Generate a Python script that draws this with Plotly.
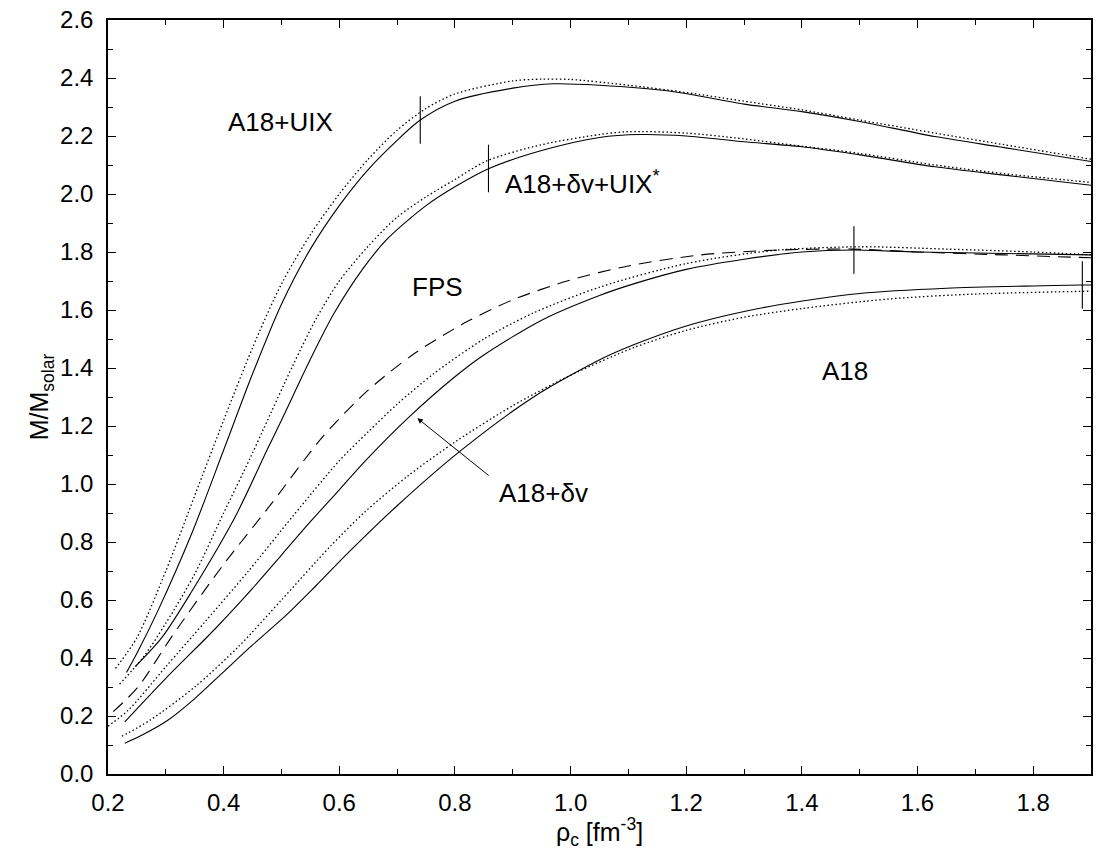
import plotly.graph_objects as go

# ---------------- data ----------------
# A18+UIX
uix_solid_x = [0.232, 0.25, 0.287, 0.345, 0.40, 0.45, 0.50, 0.55, 0.60, 0.648, 0.70, 0.74, 0.80, 0.90, 0.97, 1.05, 1.17, 1.30, 1.40, 1.50, 1.63, 1.75, 1.90]
uix_solid_y = [0.35, 0.416, 0.566, 0.83, 1.117, 1.38, 1.62, 1.81, 1.96, 2.08, 2.185, 2.255, 2.32, 2.365, 2.38, 2.375, 2.355, 2.31, 2.284, 2.25, 2.198, 2.16, 2.112]
uix_dot_x = [0.213, 0.25, 0.30, 0.35, 0.40, 0.45, 0.50, 0.55, 0.60, 0.65, 0.70, 0.75, 0.80, 0.90, 0.95, 1.00, 1.10, 1.20, 1.30, 1.40, 1.50, 1.63, 1.75, 1.90]
uix_dot_y = [0.364, 0.47, 0.70, 0.96, 1.22, 1.47, 1.69, 1.86, 2.00, 2.12, 2.22, 2.295, 2.345, 2.39, 2.396, 2.395, 2.375, 2.35, 2.32, 2.29, 2.255, 2.21, 2.17, 2.12]

# A18+dv+UIX*
dvuix_solid_x = [0.247, 0.293, 0.345, 0.42, 0.475, 0.50, 0.55, 0.59, 0.64, 0.683, 0.75, 0.80, 0.859, 0.95, 1.05, 1.12, 1.20, 1.30, 1.40, 1.50, 1.63, 1.75, 1.90]
dvuix_solid_y = [0.37, 0.47, 0.63, 0.887, 1.117, 1.22, 1.43, 1.585, 1.74, 1.845, 1.96, 2.025, 2.088, 2.15, 2.195, 2.205, 2.20, 2.18, 2.163, 2.135, 2.094, 2.065, 2.03]
dvuix_dot_x = [0.22, 0.26, 0.30, 0.35, 0.40, 0.446, 0.469, 0.52, 0.56, 0.60, 0.65, 0.70, 0.75, 0.80, 0.856, 0.95, 1.05, 1.10, 1.20, 1.30, 1.40, 1.50, 1.63, 1.75, 1.90]
dvuix_dot_y = [0.31, 0.40, 0.52, 0.69, 0.90, 1.09, 1.19, 1.41, 1.57, 1.70, 1.82, 1.92, 1.99, 2.05, 2.115, 2.17, 2.205, 2.215, 2.21, 2.19, 2.165, 2.14, 2.10, 2.07, 2.04]

# FPS
fps_x = [0.209, 0.252, 0.31, 0.397, 0.483, 0.57, 0.648, 0.73, 0.821, 0.90, 0.994, 1.10, 1.225, 1.35, 1.486, 1.60, 1.75, 1.90]
fps_y = [0.215, 0.30, 0.473, 0.715, 0.933, 1.16, 1.32, 1.45, 1.56, 1.635, 1.70, 1.752, 1.79, 1.806, 1.81, 1.80, 1.79, 1.78]

# A18+dv
dv_solid_x = [0.229, 0.30, 0.385, 0.45, 0.50, 0.55, 0.60, 0.645, 0.72, 0.80, 0.85, 0.95, 1.05, 1.109, 1.20, 1.30, 1.40, 1.49, 1.60, 1.75, 1.90]
dv_solid_y = [0.18, 0.33, 0.50, 0.64, 0.755, 0.87, 0.98, 1.08, 1.23, 1.37, 1.445, 1.565, 1.65, 1.69, 1.74, 1.775, 1.80, 1.807, 1.80, 1.795, 1.79]
dv_dot_x = [0.20, 0.235, 0.30, 0.37, 0.443, 0.52, 0.60, 0.65, 0.70, 0.763, 0.85, 0.936, 1.052, 1.20, 1.35, 1.50, 1.65, 1.80, 1.90]
dv_dot_y = [0.165, 0.22, 0.37, 0.53, 0.70, 0.89, 1.08, 1.18, 1.275, 1.38, 1.50, 1.59, 1.68, 1.76, 1.805, 1.818, 1.81, 1.80, 1.79]

# A18
a18_solid_x = [0.229, 0.26, 0.304, 0.35, 0.397, 0.45, 0.512, 0.56, 0.619, 0.70, 0.81, 0.936, 1.052, 1.109, 1.20, 1.30, 1.398, 1.50, 1.65, 1.80, 1.885, 1.90]
a18_solid_y = [0.106, 0.135, 0.186, 0.26, 0.347, 0.445, 0.555, 0.65, 0.77, 0.925, 1.115, 1.30, 1.43, 1.48, 1.545, 1.595, 1.63, 1.657, 1.675, 1.683, 1.686, 1.686]
a18_dot_x = [0.224, 0.273, 0.35, 0.426, 0.50, 0.584, 0.645, 0.72, 0.804, 0.90, 1.00, 1.109, 1.20, 1.30, 1.40, 1.55, 1.70, 1.90]
a18_dot_y = [0.13, 0.186, 0.30, 0.44, 0.60, 0.784, 0.905, 1.03, 1.15, 1.27, 1.375, 1.47, 1.53, 1.575, 1.605, 1.638, 1.655, 1.665]

# maximum-mass markers on the solid curves
max_x = [0.74, 0.858, 1.49, 1.885]
max_y = [2.255, 2.088, 1.807, 1.686]

# curve labels
label_text = ["A18+UIX", "A18+δv+UIX<sup>*</sup>", "FPS", "A18", "A18+δv"]
label_x = [0.498, 1.02, 0.769, 1.475, 0.953]
label_y = [2.248, 2.04, 1.68, 1.39, 0.969]

# ---------------- figure ----------------
FONT = "Liberation Sans, Arial, Helvetica, sans-serif"
fig = go.Figure()

def add(x, y, dash, width=1.1):
    fig.add_trace(go.Scatter(x=x, y=y, mode="lines",
                             line=dict(color="black", width=width, dash=dash, shape="spline", smoothing=0.8),
                             showlegend=False, hoverinfo="skip"))

DOT = "1.5px,2.5px"
DASH = "13px,8px"
add(uix_dot_x, uix_dot_y, DOT, 1.3)
add(uix_solid_x, uix_solid_y, "solid")
add(dvuix_dot_x, dvuix_dot_y, DOT, 1.3)
add(dvuix_solid_x, dvuix_solid_y, "solid")
add(fps_x, fps_y, DASH)
add(dv_dot_x, dv_dot_y, DOT, 1.3)
add(dv_solid_x, dv_solid_y, "solid")
add(a18_dot_x, a18_dot_y, DOT, 1.3)
add(a18_solid_x, a18_solid_y, "solid")

fig.add_trace(go.Scatter(x=max_x, y=max_y, mode="markers", cliponaxis=False,
                         marker=dict(symbol="line-ns", size=34, line=dict(color="black", width=1.1)),
                         showlegend=False, hoverinfo="skip"))

for t, x, y in zip(label_text, label_x, label_y):
    fig.add_annotation(x=x, y=y, text=t, showarrow=False, font=dict(family=FONT, size=26, color="black"))

# arrow for A18+dv
fig.add_annotation(x=0.735, y=1.227, ax=0.861, ay=1.025, axref="x", ayref="y", xref="x", yref="y",
                   text="", showarrow=True, arrowhead=2, arrowsize=1.1, arrowwidth=1, arrowcolor="black")

axis_common = dict(
    showgrid=False, zeroline=False, showline=True, linecolor="black", linewidth=1.5,
    mirror="ticks", ticks="inside", ticklen=8, tickwidth=1, tickcolor="black",
    tickfont=dict(family=FONT, size=24, color="black"),
    minor=dict(ticks="inside", ticklen=5, tickwidth=1, tickcolor="black", dtick=0.1),
)

fig.update_xaxes(range=[0.2, 1.9], dtick=0.2, tick0=0.2, tickformat=".1f", ticklabelstandoff=6,
                 title=dict(text="ρ<sub>c</sub> [fm<sup>-3</sup>]", font=dict(family=FONT, size=25, color="black"), standoff=2),
                 **axis_common)
fig.update_yaxes(range=[0, 2.6], dtick=0.2, tick0=0, tickformat=".1f", ticklabelstandoff=8,
                 title=dict(text="M/M<sub>solar</sub>", font=dict(family=FONT, size=25, color="black"), standoff=4),
                 **axis_common)

fig.update_layout(width=1096, height=850, plot_bgcolor="white", paper_bgcolor="white",
                  margin=dict(l=108, r=3, t=20, b=76), font=dict(family=FONT, color="black"))

fig.write_html("out.html", config={"displayModeBar": False})

# remove the default page margin so the 1096x850 figure fits the window exactly
with open("out.html", "r", encoding="utf-8") as f:
    html = f.read()
html = html.replace("<head>", "<head><style>html,body{margin:0;padding:0;overflow:hidden;}</style>", 1)
with open("out.html", "w", encoding="utf-8") as f:
    f.write(html)
